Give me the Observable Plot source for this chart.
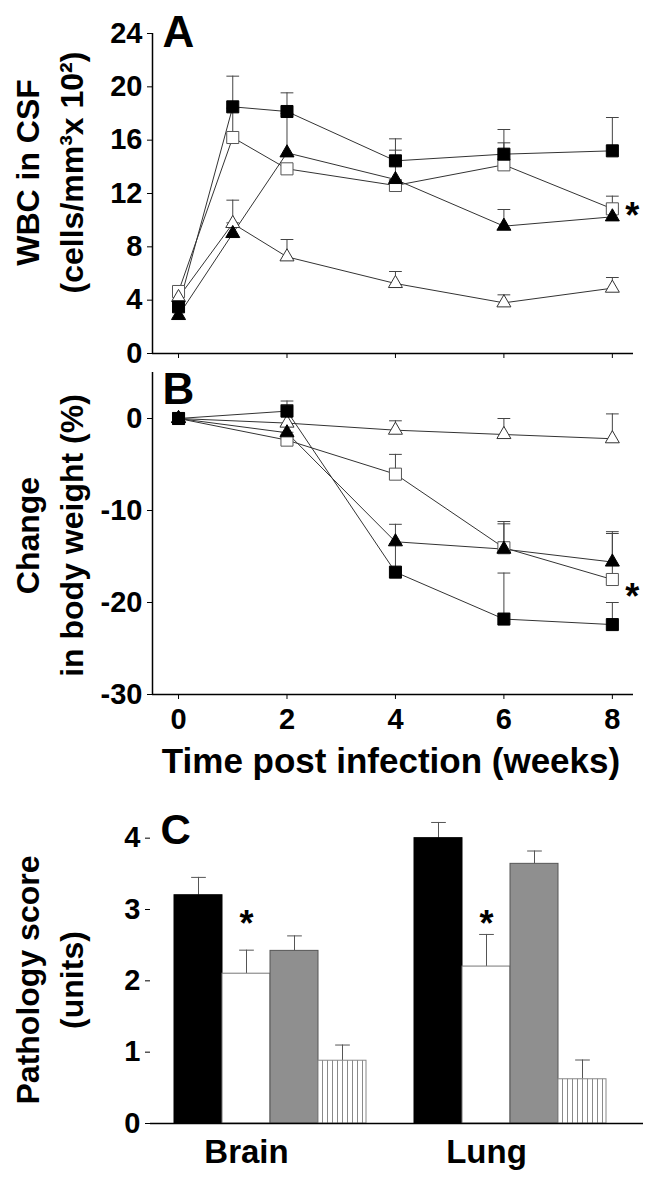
<!DOCTYPE html>
<html>
<head>
<meta charset="utf-8">
<script src="https://cdn.jsdelivr.net/npm/d3@7"></script>
<script src="https://cdn.jsdelivr.net/npm/@observablehq/plot@0.6"></script>
<style>
  html, body { margin: 0; padding: 0; background: #fff; }
  #chart { width: 650px; height: 1178px; overflow: hidden; }
  #chart svg { display: block; }
</style>
</head>
<body>
<div id="chart"></div>
<script>
// ---------- DATA ----------
// Panel A: WBC in CSF (cells/mm3 x 10^2)
const weeksA = [0, 1, 2, 4, 6, 8];
const seriesKeys = ["filledSquare", "openSquare", "filledTriangle", "openTriangle"];
const wbcFilledSquare     = [3.5, 18.5, 18.15, 14.45, 14.95, 15.2];
const wbcFilledSquareErr  = [3.5, 20.8, 19.55, 16.1, 16.8, 17.7];
const wbcOpenSquare       = [4.65, 16.2, 13.85, 12.6, 14.15, 10.85];
const wbcOpenSquareErr    = [4.65, 18.4, 13.85, 12.6, 15.8, 11.8];
const wbcFilledTriangle   = [2.85, 9.0, 15.05, 13.05, 9.55, 10.25];
const wbcFilledTriangleErr= [2.85, 9.8, 18.0, 15.25, 10.8, 10.9];
const wbcOpenTriangle     = [4.2, 9.75, 7.25, 5.25, 3.8, 4.9];
const wbcOpenTriangleErr  = [4.2, 11.5, 8.55, 6.15, 4.4, 5.7];
const wbcTicks = [0, 4, 8, 12, 16, 20, 24];

// Panel B: change in body weight (%)
const weeksB = [0, 2, 4, 6, 8];
const bwFilledSquare      = [0, 0.8, -16.7, -21.8, -22.4];
const bwFilledSquareErr   = [0, 1.9, -13.6, -16.8, -20.0];
const bwOpenSquare        = [0, -2.35, -6.05, -14.05, -17.5];
const bwOpenSquareErr     = [0, -1.5, -3.9, -11.2, -12.5];
const bwFilledTriangle    = [0, -1.55, -13.4, -14.2, -15.6];
const bwFilledTriangleErr = [0, -0.8, -11.5, -11.45, -12.3];
const bwOpenTriangle      = [0, -0.5, -1.27, -1.74, -2.2];
const bwOpenTriangleErr   = [0, 1.5, -0.25, 0.0, 0.5];
const bwTicks = [-30, -20, -10, 0];
const weekTicks = [0, 2, 4, 6, 8];

// Panel C: pathology score (units)
const organs = ["Brain", "Lung"];
const barGroups = ["black", "white", "gray", "hatched"];
const brainScore = [3.2, 2.1, 2.42, 0.88];
const brainScoreErr = [3.45, 2.43, 2.63, 1.1];
const lungScore = [4.0, 2.2, 3.64, 0.62];
const lungScoreErr = [4.22, 2.65, 3.82, 0.89];
const scoreTicks = [0, 1, 2, 3, 4];
const significantSeries = "openSquare";
const significantBarGroup = "white";

// ---------- BUILD TABLES ----------
function longTable(weeks, means, errs) {
  return seriesKeys.flatMap((k, s) =>
    weeks.map((w, i) => ({series: k, week: w, value: means[s][i], err: errs[s][i]})));
}
const dataA = longTable(weeksA,
  [wbcFilledSquare, wbcOpenSquare, wbcFilledTriangle, wbcOpenTriangle],
  [wbcFilledSquareErr, wbcOpenSquareErr, wbcFilledTriangleErr, wbcOpenTriangleErr]);
const dataB = longTable(weeksB,
  [bwFilledSquare, bwOpenSquare, bwFilledTriangle, bwOpenTriangle],
  [bwFilledSquareErr, bwOpenSquareErr, bwFilledTriangleErr, bwOpenTriangleErr]);

const keyOf = (o, g) => `${o}|${g}`;
const dataC = organs.flatMap((o, oi) => barGroups.map((g, gi) => ({
  organ: o, group: g, key: keyOf(o, g),
  value: (oi === 0 ? brainScore : lungScore)[gi],
  err: (oi === 0 ? brainScoreErr : lungScoreErr)[gi]
})));
const xDomainC = [...barGroups.map(g => keyOf("Brain", g)), "gap", ...barGroups.map(g => keyOf("Lung", g))];

// ---------- STYLES ----------
const FONT = "'Liberation Sans', Arial, Helvetica, sans-serif";
const markerStyles = {
  openSquare:     {symbol: "square",   r: 6.8, fill: "white", stroke: "#555", strokeWidth: 1},
  openTriangle:   {symbol: "triangle", r: 5.2, fill: "white", stroke: "#333", strokeWidth: 1},
  filledTriangle: {symbol: "triangle", r: 5.2, fill: "black", stroke: "black", strokeWidth: 1},
  filledSquare:   {symbol: "square",   r: 6.8, fill: "black", stroke: "black", strokeWidth: 1}
};
const drawOrder = ["openSquare", "openTriangle", "filledTriangle", "filledSquare"];
const capSymbol = {draw(ctx, size) { const w = Math.sqrt(size) / 2; ctx.moveTo(-w, 0); ctx.lineTo(w, 0); }};
const xDomainLine = [-0.48, 8.39];

function linePanel({data, yDomain, yTicks, showX, height, marginTop, marginBottom, letter, letterDy, yLabel, yLabelDy, extraMarks}) {
  const withErr = data.filter(d => d.err !== d.value);
  const sig = data.filter(d => d.series === significantSeries && d.week === d3.max(data, e => e.week));
  return Plot.plot({
    width: 650, height, marginLeft: 152, marginRight: 17, marginTop, marginBottom,
    style: {fontFamily: FONT, fontWeight: "bold", fontSize: "29px", color: "black", background: "white", overflow: "visible"},
    x: {domain: xDomainLine, ticks: weekTicks, tickSize: 5, tickPadding: 9, label: null,
        tickFormat: showX ? (d => String(d)) : (() => "")},
    y: {domain: yDomain, ticks: yTicks, tickSize: 5, tickPadding: 5, label: null, tickFormat: d => String(d)},
    marks: [
      Plot.ruleY([yDomain[0]], {stroke: "black", strokeWidth: 1.5}),
      Plot.ruleX([xDomainLine[0]], {stroke: "black", strokeWidth: 1.5}),
      Plot.line(data, {x: "week", y: "value", z: "series", stroke: "#333", strokeWidth: 1}),
      Plot.ruleX(withErr, {x: "week", y1: "value", y2: "err", stroke: "#444", strokeWidth: 1}),
      Plot.dot(withErr, {x: "week", y: "err", symbol: capSymbol, r: 7.2, fill: "none", stroke: "#444", strokeWidth: 1}),
      ...drawOrder.map(k => Plot.dot(data.filter(d => d.series === k), {x: "week", y: "value", ...markerStyles[k]})),
      Plot.text(sig, {x: "week", y: "value", text: () => "*", dx: 20, dy: extraMarks.asteriskDy, fontSize: 36, fontWeight: "bold"}),
      Plot.text([letter], {frameAnchor: "top-left", dx: 10, dy: letterDy, textAnchor: "start", lineAnchor: "bottom", fontSize: 44, fontWeight: "bold"}),
      Plot.text([yLabel], {frameAnchor: "left", rotate: -90, dx: -106, dy: yLabelDy, textAnchor: "middle", lineAnchor: "middle", lineHeight: 1.38, fontSize: 32, fontWeight: "bold"}),
      ...(extraMarks.marks || [])
    ]
  });
}

const chart = document.getElementById("chart");

// Panel A
chart.append(linePanel({
  data: dataA, yDomain: [0, 24], yTicks: wbcTicks, showX: false,
  height: 365, marginTop: 33, marginBottom: 12,
  letter: "A", letterDy: 13,
  yLabel: "WBC in CSF\n(cells/mm³x 10²)", yLabelDy: -21,
  extraMarks: {asteriskDy: 8}
}));

// Panel B
chart.append(linePanel({
  data: dataB, yDomain: [-30, 5], yTicks: bwTicks, showX: true,
  height: 435, marginTop: 7, marginBottom: 106,
  letter: "B", letterDy: 31,
  yLabel: "Change\nin body weight (%)", yLabelDy: 2,
  extraMarks: {asteriskDy: 18, marks: [
    Plot.text(["Time post infection (weeks)"], {frameAnchor: "bottom", dx: -2, dy: 78, lineAnchor: "bottom", fontSize: 35, fontWeight: "bold"})
  ]}
}));

// Panel C
const barStyles = {
  black:   {fill: "black", stroke: "black"},
  white:   {fill: "white", stroke: "#777"},
  gray:    {fill: "#8f8f8f", stroke: "#555"},
  hatched: {fill: "url(#vhatch)", stroke: "#888"}
};
const hatchDefs = () => {
  const defs = d3.create("svg:defs");
  const p = defs.append("pattern").attr("id", "vhatch").attr("patternUnits", "userSpaceOnUse")
    .attr("width", 5).attr("height", 10);
  p.append("rect").attr("width", 5).attr("height", 10).attr("fill", "white");
  p.append("line").attr("x1", 2.5).attr("x2", 2.5).attr("y1", 0).attr("y2", 10)
    .attr("stroke", "#8a8a8a").attr("stroke-width", 1);
  return defs.node();
};
const labelRows = organs.map(o => ({organ: o, key: keyOf(o, significantBarGroup)}));

chart.append(Plot.plot({
  width: 650, height: 378, marginLeft: 150, marginRight: 7, marginTop: 2, marginBottom: 55,
  style: {fontFamily: FONT, fontWeight: "bold", fontSize: "29px", color: "black", background: "white", overflow: "visible"},
  x: {type: "band", domain: xDomainC, padding: 0, paddingOuter: 0.6, align: 0.4, axis: null},
  y: {domain: [0, 4.5], ticks: scoreTicks, tickSize: 5, tickPadding: 5, label: null, tickFormat: d => String(d)},
  marks: [
    hatchDefs,
    Plot.ruleX(dataC, {x: "key", y1: "value", y2: "err", stroke: "#555", strokeWidth: 1}),
    Plot.dot(dataC, {x: "key", y: "err", symbol: capSymbol, r: 8.3, fill: "none", stroke: "#555", strokeWidth: 1}),
    ...barGroups.map(g => Plot.barY(dataC.filter(d => d.group === g), {x: "key", y: "value", ...barStyles[g], strokeWidth: 1})),
    Plot.ruleY([0], {stroke: "black", strokeWidth: 1.5}),
    Plot.ruleX([0], {x: () => null, frameAnchor: "left", y1: 0, y2: 4.5, stroke: "black", strokeWidth: 1.5}),
    Plot.text(labelRows, {x: "key", y: 2.92, text: () => "*", dy: 9, fontSize: 36, fontWeight: "bold"}),
    Plot.text(labelRows, {x: "key", y: 0, text: "organ", dy: 39, lineAnchor: "bottom", fontSize: 33, fontWeight: "bold"}),
    Plot.text(["C"], {frameAnchor: "top-left", dx: 10, dy: 41, textAnchor: "start", lineAnchor: "bottom", fontSize: 42, fontWeight: "bold"}),
    Plot.text(["Pathology score\n(units)"], {frameAnchor: "left", rotate: -90, dx: -104, dy: 17, textAnchor: "middle", lineAnchor: "middle", lineHeight: 1.38, fontSize: 32, fontWeight: "bold"})
  ]
}));
</script>
</body>
</html>
